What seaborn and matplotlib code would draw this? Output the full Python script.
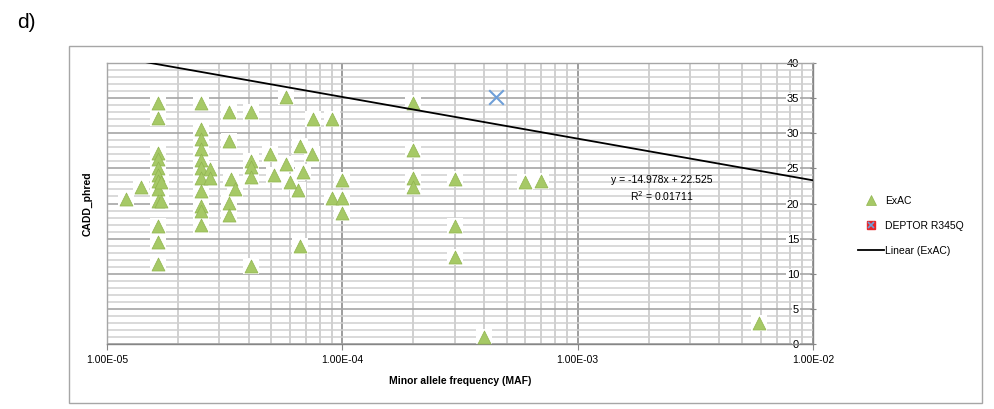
import numpy as np
import pandas as pd
import seaborn as sns
import matplotlib.pyplot as plt
from matplotlib.lines import Line2D
from matplotlib.patches import Rectangle
from matplotlib.legend_handler import HandlerTuple
from matplotlib.ticker import LogLocator, MultipleLocator, NullFormatter

# ExAC variants: minor allele frequency and CADD phred score
exac_maf = [
    1.2e-5, 1.4e-5,
    1.65e-5, 1.65e-5, 1.65e-5, 1.65e-5, 1.65e-5, 1.65e-5, 1.65e-5, 1.65e-5,
    1.65e-5, 1.65e-5, 1.65e-5, 1.65e-5, 1.7e-5, 1.7e-5,
    2.5e-5, 2.5e-5, 2.5e-5, 2.5e-5, 2.5e-5, 2.5e-5, 2.5e-5, 2.5e-5,
    2.5e-5, 2.5e-5, 2.5e-5, 2.75e-5, 2.75e-5,
    3.3e-5, 3.3e-5, 3.3e-5, 3.3e-5, 3.36e-5, 3.5e-5,
    4.1e-5, 4.1e-5, 4.1e-5, 4.1e-5, 4.1e-5,
    4.92e-5, 5.13e-5, 5.74e-5, 5.74e-5, 5.98e-5, 6.45e-5, 6.6e-5, 6.6e-5,
    6.83e-5, 7.45e-5, 7.5e-5, 9.0e-5, 9.0e-5,
    1.0e-4, 1.0e-4, 1.0e-4,
    2.0e-4, 2.0e-4, 2.0e-4, 2.0e-4,
    3.0e-4, 3.0e-4, 3.0e-4, 4.0e-4, 6.0e-4, 7.0e-4, 5.9e-3,
]
exac_cadd = [
    20.6, 22.4,
    34.3, 32.1, 27.2, 26.3, 25.1, 24.1, 23.2, 22.0,
    20.4, 16.8, 14.5, 11.4, 20.3, 23.0,
    34.3, 30.6, 29.2, 27.8, 26.2, 25.1, 23.7, 21.8,
    19.6, 18.9, 17.0, 24.9, 23.6,
    33.0, 28.9, 20.1, 18.4, 23.5, 22.0,
    33.0, 26.0, 25.2, 23.8, 11.1,
    27.1, 24.1, 35.1, 25.6, 23.0, 21.9, 28.2, 13.9,
    24.5, 27.1, 32.0, 32.0, 20.8,
    23.4, 20.8, 18.6,
    34.3, 27.6, 23.7, 22.4,
    23.5, 16.8, 12.4, 1.05, 23.0, 23.2, 3.05,
]

deptor_maf = [4.5e-4]
deptor_cadd = [35.1]

# Excel linear trendline as drawn on the log axis
trend_x = [1e-5, 1e-2]
trend_y = [41.1, 23.3]

exac = pd.DataFrame({"maf": exac_maf, "cadd": exac_cadd})
deptor = pd.DataFrame({"maf": deptor_maf, "cadd": deptor_cadd})
trend = pd.DataFrame({"maf": trend_x, "cadd": trend_y})

plt.rcParams["font.family"] = ["Liberation Sans", "DejaVu Sans"]

GREEN = "#a6c966"
GREEN_EDGE = "#91b450"
BLUE = "#6f9fd8"

fig = plt.figure(figsize=(9.94, 4.09), dpi=100)
ax = fig.add_axes([107 / 994, 1 - 344 / 409, 706 / 994, 281 / 409])

# white halo behind the triangles (Excel marker look)
sns.scatterplot(x="maf", y="cadd", data=exac, marker="s", s=140, color="white",
                linewidth=0, ax=ax, legend=False, zorder=2)
sns.scatterplot(x="maf", y="cadd", data=exac, marker="^", s=88, color=GREEN,
                edgecolor=GREEN_EDGE, linewidth=0.5, ax=ax, legend=False, zorder=3)
sns.lineplot(x="maf", y="cadd", data=trend, color="black", linewidth=1.3,
             ax=ax, legend=False, zorder=4)
sns.scatterplot(x="maf", y="cadd", data=deptor, marker="x", s=110, color=BLUE,
                linewidth=1.5, ax=ax, legend=False, zorder=5)

ax.set_xscale("log")
ax.set_xlim(1e-5, 1e-2)
ax.set_ylim(0, 40)

ax.xaxis.set_major_locator(LogLocator(base=10, numticks=10))
ax.xaxis.set_minor_locator(LogLocator(base=10, subs=np.arange(2, 10), numticks=20))
ax.xaxis.set_minor_formatter(NullFormatter())
ax.set_xticks([1e-5, 1e-4, 1e-3, 1e-2])
ax.set_xticklabels(["1.00E-05", "1.00E-04", "1.00E-03", "1.00E-02"])
ax.yaxis.set_major_locator(MultipleLocator(5))
ax.yaxis.set_minor_locator(MultipleLocator(1))

ax.grid(True, which="major", axis="y", color="#a6a6a6", linewidth=1.2, zorder=0)
ax.grid(True, which="minor", axis="y", color="#d0d0d0", linewidth=1.1, zorder=0)
ax.grid(True, which="major", axis="x", color="#8c8c8c", linewidth=1.2, zorder=0)
ax.grid(True, which="minor", axis="x", color="#c8c8c8", linewidth=1.2, zorder=0)
ax.set_axisbelow(True)

for side in ["left", "top"]:
    ax.spines[side].set_color("#a6a6a6")
    ax.spines[side].set_linewidth(1.0)
for side in ["right", "bottom"]:
    ax.spines[side].set_color("#868686")
    ax.spines[side].set_linewidth(1.0)

# y axis sits on the right, labels just inside the plot
ax.yaxis.tick_right()
ax.yaxis.set_label_position("left")
ax.tick_params(axis="y", which="major", direction="inout", length=5, width=0.8,
               color="#868686", pad=-12.5, labelsize=8, labelcolor="black")
ax.tick_params(axis="y", which="minor", length=0)
for t in ax.get_yticklabels():
    t.set_ha("right")
    t.set_bbox(dict(facecolor="white", edgecolor="none", pad=0.5))
ax.tick_params(axis="x", which="major", direction="out", length=4, width=0.8,
               color="#868686", pad=4, labelsize=7.5)
ax.tick_params(axis="x", which="minor", length=0)

ax.set_xlabel("Minor allele frequency (MAF)", fontsize=7.5, fontweight="bold", labelpad=8)
ax.set_ylabel("CADD_phred", fontsize=7.5, fontweight="bold", labelpad=10)

ax.text(0.786, 0.55, "y = -14.978x + 22.525\nR$^2$ = 0.01711", transform=ax.transAxes,
        ha="center", va="center", fontsize=7.5, linespacing=1.35)

# outer chart border and panel label
fig.add_artist(Rectangle((69 / 994, 1 - 403 / 409), (982 - 69) / 994, (403 - 46) / 409,
                         transform=fig.transFigure, fill=False, edgecolor="#a6a6a6",
                         linewidth=1.0))
fig.text(17 / 994, 1 - 23 / 409, "d)", fontsize=15, va="center", ha="left")

h_exac = Line2D([], [], marker="^", linestyle="none", markersize=7,
                markerfacecolor=GREEN, markeredgecolor=GREEN_EDGE, markeredgewidth=0.5)
h_sq = Line2D([], [], marker="s", linestyle="none", markersize=6,
              markerfacecolor="#e8262b", markeredgecolor="#e8262b")
h_x = Line2D([], [], marker="x", linestyle="none", markersize=5,
             markeredgecolor=BLUE, markeredgewidth=1.2)
h_lin = Line2D([], [], color="black", linewidth=1.3)
fig.legend([h_exac, (h_sq, h_x), h_lin], ["ExAC", "DEPTOR R345Q", "Linear (ExAC)"],
           handler_map={tuple: HandlerTuple(ndivide=1, pad=0)},
           loc="center left", bbox_to_anchor=(858 / 994, 1 - 226 / 409),
           frameon=False, fontsize=7.5, handlelength=2.5, handletextpad=0.1,
           labelspacing=1.45, borderpad=0, borderaxespad=0)

fig.savefig("out.png", dpi=100)
